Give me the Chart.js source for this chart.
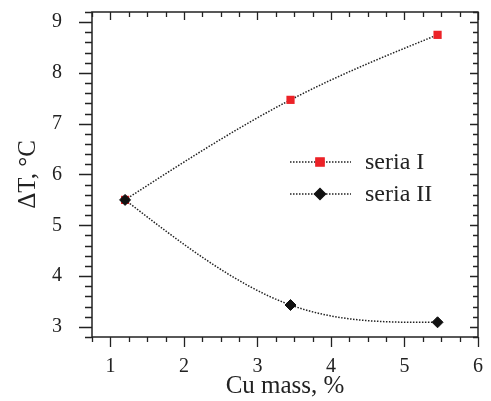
<!DOCTYPE html>
<html>
<head>
<meta charset="utf-8">
<script src="https://cdn.jsdelivr.net/npm/chart.js@4.4.1/dist/chart.umd.min.js"></script>
<style>
  html, body { margin: 0; padding: 0; background: #fff; }
  #wrap { width: 491px; height: 401px; }
</style>
</head>
<body>
<div id="wrap"><canvas id="chart" width="491" height="401"></canvas></div>
<script>
// Data
const cuMass = [1.2, 3.45, 5.45];
const seriaI = [5.5, 7.47, 8.75];
const seriaII = [5.5, 3.43, 3.09];
const seriesNames = ['seria I', 'seria II'];

const FONT = "'Liberation Serif', 'Times New Roman', serif";
const INK = '#222';
const RED = '#ec2227';

const toPoints = (ys) => cuMass.map((x, i) => ({ x: x, y: ys[i] }));
const isMajor = (v) => Math.abs(v - Math.round(v)) < 1e-6;

// slopes of a natural cubic spline through the points (like the original plot)
function naturalSlopes(xs, ys) {
    const n = xs.length;
    const h = [], d = [];
    for (let i = 0; i < n - 1; i++) {
        h.push(xs[i + 1] - xs[i]);
        d.push((ys[i + 1] - ys[i]) / h[i]);
    }
    const M = new Array(n).fill(0);
    if (n > 2) {
        // tridiagonal solve for inner second derivatives
        const a = [], b = [], c = [], r = [];
        for (let i = 1; i < n - 1; i++) {
            a.push(h[i - 1]); b.push(2 * (h[i - 1] + h[i])); c.push(h[i]);
            r.push(6 * (d[i] - d[i - 1]));
        }
        const m = b.length;
        for (let i = 1; i < m; i++) {
            const w = a[i] / b[i - 1];
            b[i] -= w * c[i - 1];
            r[i] -= w * r[i - 1];
        }
        const sol = new Array(m);
        sol[m - 1] = r[m - 1] / b[m - 1];
        for (let i = m - 2; i >= 0; i--) sol[i] = (r[i] - c[i] * sol[i + 1]) / b[i];
        for (let i = 0; i < m; i++) M[i + 1] = sol[i];
    }
    const s = [];
    for (let i = 0; i < n - 1; i++) s.push(d[i] - h[i] * (2 * M[i] + M[i + 1]) / 6);
    s.push(d[n - 2] + h[n - 2] * (M[n - 2] + 2 * M[n - 1]) / 6);
    return s;
}

// replace Chart.js bezier control points with the natural spline ones
const splinePlugin = {
    id: 'naturalSpline',
    beforeDatasetDraw(chart, args) {
        const meta = args.meta;
        const line = meta.dataset;
        if (!line) return;
        line.updateControlPoints(chart.chartArea, 'x');
        const data = chart.data.datasets[args.index].data;
        const xs = data.map(p => p.x), ys = data.map(p => p.y);
        const sl = naturalSlopes(xs, ys);
        const X = chart.scales.x, Y = chart.scales.y;
        meta.data.forEach((pt, i) => {
            if (i < xs.length - 1) {
                const h = (xs[i + 1] - xs[i]) / 3;
                pt.cp2x = X.getPixelForValue(xs[i] + h);
                pt.cp2y = Y.getPixelForValue(ys[i] + sl[i] * h);
            }
            if (i > 0) {
                const h = (xs[i] - xs[i - 1]) / 3;
                pt.cp1x = X.getPixelForValue(xs[i] - h);
                pt.cp1y = Y.getPixelForValue(ys[i] - sl[i] * h);
            }
        });
        line._path = undefined;
    }
};

// frame, mirrored ticks and legend drawn on the canvas
const framePlugin = {
    id: 'frame',
    afterDatasetsDraw(chart) {
        const { ctx, chartArea: a, scales } = chart;
        ctx.save();
        ctx.strokeStyle = INK;
        ctx.lineWidth = 1.5;
        ctx.strokeRect(a.left, a.top, a.right - a.left, a.bottom - a.top);

        ctx.lineWidth = 1.3;
        ctx.beginPath();
        scales.x.ticks.forEach(t => {
            const px = Math.round(scales.x.getPixelForValue(t.value)) + 0.5;
            const major = isMajor(t.value);
            ctx.moveTo(px, a.bottom);
            ctx.lineTo(px, a.bottom + (major ? 10 : 5));
            ctx.moveTo(px, a.top);
            ctx.lineTo(px, a.top + (major ? 8 : 5));
        });
        scales.y.ticks.forEach(t => {
            const py = Math.round(scales.y.getPixelForValue(t.value)) + 0.5;
            const major = isMajor(t.value);
            ctx.moveTo(a.left, py);
            ctx.lineTo(a.left - (major ? 13 : 7), py);
            ctx.moveTo(a.right, py);
            ctx.lineTo(a.right - (major ? 8 : 5), py);
        });
        ctx.stroke();

        // legend
        const lx = a.left + 198, ly = a.top + 150, rowH = 32;
        chart.data.datasets.forEach((ds, i) => {
            const y = ly + i * rowH;
            ctx.strokeStyle = ds.borderColor;
            ctx.lineWidth = ds.borderWidth;
            ctx.setLineDash(ds.borderDash);
            ctx.beginPath();
            ctx.moveTo(lx, y);
            ctx.lineTo(lx + 61, y);
            ctx.stroke();
            ctx.setLineDash([]);
            ctx.fillStyle = ds.pointBackgroundColor;
            ctx.strokeStyle = ds.pointBorderColor;
            Chart.helpers.drawPoint(ctx, {
                pointStyle: ds.pointStyle,
                radius: ds.pointRadius,
                rotation: 0,
                borderWidth: 1
            }, lx + 30, y);
            ctx.fillStyle = INK;
            ctx.font = '24px ' + FONT;
            ctx.textBaseline = 'middle';
            ctx.fillText(ds.label, lx + 75, y + 1);
        });
        ctx.restore();
    }
};

new Chart(document.getElementById('chart'), {
    type: 'line',
    data: {
        datasets: [{
            label: seriesNames[0],
            data: toPoints(seriaI),
            borderColor: INK,
            borderWidth: 1.5,
            borderDash: [1.5, 1.5],
            pointStyle: 'rect',
            pointRadius: 5.8,
            pointBackgroundColor: RED,
            pointBorderColor: RED,
            pointBorderWidth: 0,
            tension: 0.4,
            order: 2
        }, {
            label: seriesNames[1],
            data: toPoints(seriaII),
            borderColor: INK,
            borderWidth: 1.5,
            borderDash: [1.5, 1.5],
            pointStyle: 'rectRot',
            pointRadius: 5.5,
            pointBackgroundColor: '#111',
            pointBorderColor: '#111',
            pointBorderWidth: 1,
            tension: 0.4,
            order: 1
        }]
    },
    options: {
        responsive: false,
        animation: false,
        events: [],
        layout: { padding: { top: 12, right: 13, left: 0, bottom: 0 } },
        plugins: { legend: { display: false }, tooltip: { enabled: false } },
        scales: {
            x: {
                type: 'linear',
                min: 0.75,
                max: 6,
                border: { display: false },
                grid: { display: false },
                ticks: {
                    stepSize: 0.25,
                    autoSkip: false,
                    maxRotation: 0,
                    padding: 10,
                    color: INK,
                    font: { family: FONT, size: 20 },
                    callback: (v) => isMajor(v) ? Math.round(v) : ''
                },
                title: {
                    display: true,
                    text: 'Cu mass, %',
                    color: INK,
                    font: { family: FONT, size: 25 },
                    padding: 0
                },
                afterFit: (s) => {
                    s.height = 64;
                    s.paddingLeft = 0;
                    s.paddingRight = 0;
                }
            },
            y: {
                min: 2.8,
                max: 9.2,
                border: { display: false },
                grid: { display: false },
                ticks: {
                    stepSize: 0.2,
                    autoSkip: false,
                    padding: 22,
                    color: INK,
                    font: { family: FONT, size: 20 },
                    callback: (v) => isMajor(v) ? Math.round(v) : ''
                },
                title: {
                    display: true,
                    text: 'ΔT, °C',
                    color: INK,
                    font: { family: FONT, size: 25 },
                    padding: { top: 13, bottom: 0 }
                },
                afterFit: (s) => {
                    s.width = 92;
                    s.paddingTop = 0;
                    s.paddingBottom = 0;
                }
            }
        }
    },
    plugins: [splinePlugin, framePlugin]
});
</script>
</body>
</html>
